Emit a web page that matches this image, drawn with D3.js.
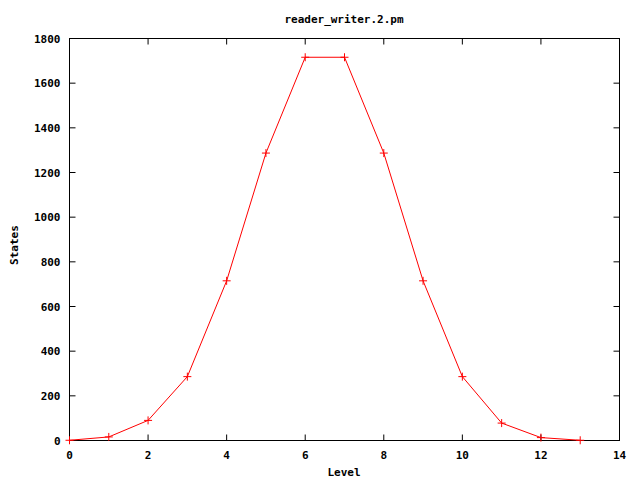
<!DOCTYPE html>
<html><head><meta charset="utf-8">
<script src="https://cdn.jsdelivr.net/npm/d3@7"></script>
<style>body{margin:0;background:#fff}svg text{font-family:"DejaVu Sans Mono",monospace;font-weight:bold;font-size:11px;fill:#000}</style>
</head><body><svg id="c" width="640" height="480"></svg>
<script>
const levels = [0,1,2,3,4,5,6,7,8,9,10,11,12,13];
const states = [1,16,90,286,715,1287,1716,1716,1287,715,286,78,13,1];
const xTicks = [0,2,4,6,8,10,12,14];
const yTicks = [0,200,400,600,800,1000,1200,1400,1600,1800];
const title = "reader_writer.2.pm";
const xLabel = "Level";
const yLabel = "States";

const svg = d3.select("#c");
const L=69.5, R=619.5, T=38.5, B=440.5;
const x = d3.scaleLinear().domain([0,14]).range([L,R]);
const y = d3.scaleLinear().domain([0,1800]).range([B,T]);
const tl = 6;

const g = svg.append("g");
// ticks
xTicks.forEach(t=>{
  g.append("line").attr("x1",x(t)).attr("x2",x(t)).attr("y1",B).attr("y2",B-tl).attr("stroke","#000");
  g.append("line").attr("x1",x(t)).attr("x2",x(t)).attr("y1",T).attr("y2",T+tl).attr("stroke","#000");
  g.append("text").attr("x",x(t)).attr("y",B+18).attr("text-anchor","middle").text(t);
});
yTicks.forEach(t=>{
  g.append("line").attr("x1",L).attr("x2",L+tl).attr("y1",y(t)).attr("y2",y(t)).attr("stroke","#000");
  g.append("line").attr("x1",R).attr("x2",R-tl).attr("y1",y(t)).attr("y2",y(t)).attr("stroke","#000");
  g.append("text").attr("x",L-9).attr("y",y(t)+4).attr("text-anchor","end").text(t);
});
g.append("rect").attr("x",L).attr("y",T).attr("width",R-L).attr("height",B-T).attr("fill","none").attr("stroke","#000");

const data = levels.map((l,i)=>({l, v:states[i]}));
g.append("path").datum(data).attr("fill","none").attr("stroke","#ff0000").attr("stroke-width",1)
  .attr("d", d3.line().x(d=>x(d.l)).y(d=>y(d.v)));
const pts = g.selectAll("g.p").data(data).enter().append("g").attr("class","p")
  .attr("transform",d=>`translate(${x(d.l)},${y(d.v)})`);
pts.append("line").attr("x1",-4).attr("x2",4).attr("y1",0).attr("y2",0).attr("stroke","#ff0000");
pts.append("line").attr("x1",0).attr("x2",0).attr("y1",-4).attr("y2",4).attr("stroke","#ff0000");

svg.append("text").attr("x",344).attr("y",23).attr("text-anchor","middle").text(title);
svg.append("text").attr("x",344).attr("y",476).attr("text-anchor","middle").text(xLabel);
svg.append("text").attr("transform","translate(18,245) rotate(-90)").attr("text-anchor","middle").text(yLabel);
</script></body></html>
